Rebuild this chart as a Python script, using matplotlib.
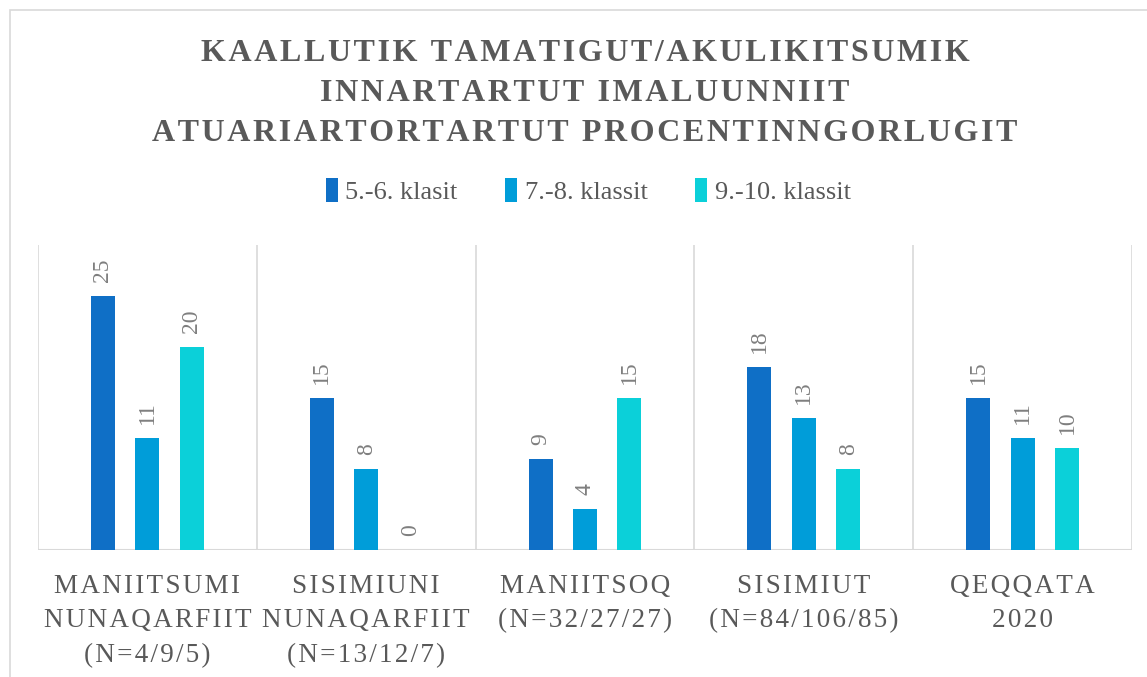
import matplotlib
matplotlib.use("Agg")
import matplotlib.pyplot as plt
from matplotlib.patches import Rectangle
import numpy as np

# chart data
categories = ["MANIITSUMI\nNUNAQARFIIT\n(N=4/9/5)",
              "SISIMIUNI\nNUNAQARFIIT\n(N=13/12/7)",
              "MANIITSOQ\n(N=32/27/27)",
              "SISIMIUT\n(N=84/106/85)",
              "QEQQATA\n2020"]
series_names = ["5.-6. klasit", "7.-8. klassit", "9.-10. klassit"]
klasit_5_6 = [25, 15, 9, 18, 15]
klassit_7_8 = [11, 8, 4, 13, 11]
klassit_9_10 = [20, 0, 15, 8, 10]
title_lines = ["KAALLUTIK TAMATIGUT/AKULIKITSUMIK",
               "INNARTARTUT IMALUUNNIIT",
               "ATUARIARTORTARTUT PROCENTINNGORLUGIT"]

colors = ["#0F6FC6", "#009DD9", "#0BD0D9"]
grid_col = "#D9D9D9"
text_col = "#595959"
label_col = "#7F7F7F"
serif = ["Liberation Serif", "DejaVu Serif"]


def spaced(s, sep="\u200a"):
    # fake letter spacing
    return "\n".join(sep.join(line) for line in s.split("\n"))


fig = plt.figure(figsize=(11.47, 6.77), dpi=100)

# outer chart border (cropped at right/bottom like the source)
top = 1 - 10 / 677
fig.patches.append(Rectangle((10 / 1147, -0.1), 2, top + 0.1, transform=fig.transFigure,
                             fill=False, edgecolor=grid_col, linewidth=1.2))

ax = fig.add_axes([38 / 1147, 1 - 550 / 677, (1132 - 38) / 1147, (550 - 245) / 677])

x = np.arange(len(categories))
width = 0.11
offset = 0.203
all_series = [klasit_5_6, klassit_7_8, klassit_9_10]
for i, (vals, name) in enumerate(zip(all_series, series_names)):
    bars = ax.bar(x + (i - 1) * offset, vals, width, color=colors[i], label=name, zorder=3)
    for b, v in zip(bars, vals):
        ax.annotate(str(v), (b.get_x() + b.get_width() / 2, v), xytext=(0, 10),
                    textcoords="offset points", rotation=90, ha="center", va="bottom",
                    fontsize=17, color=label_col, family=serif)

ax.set_xlim(-0.5, len(categories) - 0.5)
ax.set_ylim(0, 30)
ax.set_yticks([])
for sep in np.arange(-0.5, len(categories), 1.0):
    ax.axvline(sep, color=grid_col, linewidth=1.2, zorder=1)
ax.axhline(0, color=grid_col, linewidth=1.5, zorder=2)
for s in ax.spines.values():
    s.set_visible(False)

ax.set_xticks(x)
ax.set_xticklabels([spaced(c) for c in categories], fontsize=19.5, color=text_col,
                   family=serif, linespacing=1.5)
ax.tick_params(axis="x", length=0, pad=17)

fig.text(0.51, 0.943, spaced("\n".join(title_lines)), ha="center", va="top",
         fontsize=23, fontweight="bold", color=text_col, family=serif, linespacing=1.5)

leg = fig.legend(loc="center", bbox_to_anchor=(0.513, 0.718), ncol=3, frameon=False,
                 prop={"family": serif, "size": 19}, labelcolor=text_col,
                 handlelength=0.45, handleheight=1.0, handletextpad=0.3, columnspacing=1.8)

fig.savefig("out.png", dpi=100)
